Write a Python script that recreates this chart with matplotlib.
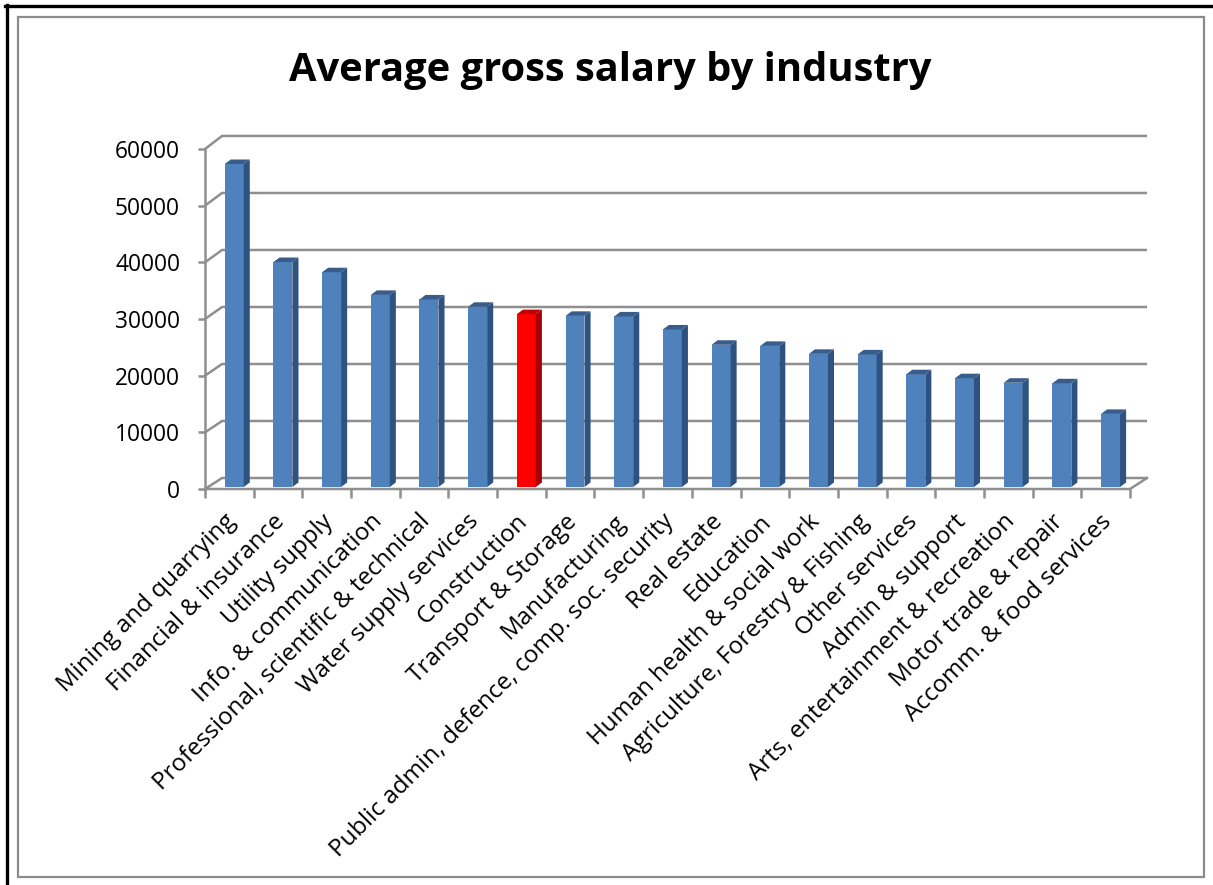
import numpy as np
import matplotlib.pyplot as plt
from matplotlib.patches import Polygon, Rectangle
from matplotlib.lines import Line2D

industries = ['Mining and quarrying', 'Financial & insurance', 'Utility supply',
              'Info. & communication', 'Professional, scientific & technical',
              'Water supply services', 'Construction', 'Transport & Storage',
              'Manufacturing', 'Public admin, defence, comp. soc. security',
              'Real estate', 'Education', 'Human health & social work',
              'Agriculture, Forestry & Fishing', 'Other services', 'Admin & support',
              'Arts, entertainment & recreation', 'Motor trade & repair',
              'Accomm. & food services']
salary = [57000, 39700, 37900, 33900, 33100, 31800, 30500, 30200, 30100, 27800,
          25100, 24900, 23500, 23400, 19900, 19200, 18400, 18300, 12900]
highlight = 'Construction'
yticks = [0, 10000, 20000, 30000, 40000, 50000, 60000]

plt.rcParams['font.family'] = ['Open Sans', 'DejaVu Sans']

W, H = 1213, 885
fig = plt.figure(figsize=(W / 100, H / 100), dpi=100)
ax = fig.add_axes([205 / W, 1 - 489 / H, 925 / W, 340 / H])
n = len(industries)
ax.set_xlim(0, n)
ax.set_ylim(0, 60000)
for s in ax.spines.values():
    s.set_visible(False)

grid = '#8f8f8f'
# fake 3d: back wall offset and bar depth
wall_dx, wall_dy, wall_k = 0.35, 1940, 1.006
bar_shift, bar_w, bar_base = 0.1, 0.39, 350
bar_dx, bar_dy = 0.125, 800

for v in yticks:
    yb = wall_dy + v * wall_k
    ax.plot([0, wall_dx, n + wall_dx], [v, yb, yb], color=grid, lw=1.8,
            clip_on=False, zorder=1, solid_capstyle='butt')
ax.plot([0, 0], [0, 60000], color=grid, lw=1.8, clip_on=False, zorder=1)
ax.plot([0, n, n + wall_dx], [0, 0, wall_dy], color=grid, lw=1.8,
        clip_on=False, zorder=1)

for i, (name, val) in enumerate(zip(industries, salary)):
    if name == highlight:
        front, side, top = '#ff0000', '#a80000', '#c00000'
    else:
        front, side, top = '#4f81bd', '#2f5380', '#385d8a'
    x0 = i + 0.5 + bar_shift - bar_w / 2
    x1 = x0 + bar_w
    y0 = bar_base
    y1 = bar_base + val
    ax.add_patch(Rectangle((x0, y0), bar_w, val, facecolor=front,
                           edgecolor='none', zorder=3, clip_on=False))
    ax.add_patch(Polygon([(x1, y0), (x1 + bar_dx, y0 + bar_dy),
                          (x1 + bar_dx, y1 + bar_dy), (x1, y1)],
                         closed=True, facecolor=side, edgecolor='none',
                         zorder=3, clip_on=False))
    ax.add_patch(Polygon([(x0, y1), (x1, y1), (x1 + bar_dx, y1 + bar_dy),
                          (x0 + bar_dx, y1 + bar_dy)],
                         closed=True, facecolor=top, edgecolor='none',
                         zorder=3, clip_on=False))

ax.set_yticks(yticks)
ax.set_yticklabels([str(v) for v in yticks], fontsize=16.4)
ax.tick_params(axis='y', length=5, width=1.8, color=grid, pad=13)

ax.set_xticks(np.arange(n + 1), minor=True)
ax.set_xticks(np.arange(n) + 0.56)
ax.set_xticklabels(industries, rotation=45, ha='right', va='center',
                   rotation_mode='anchor', fontsize=17.4)
ax.tick_params(axis='x', which='major', length=0, pad=21)
ax.tick_params(axis='x', which='minor', length=6.5, width=1.8, color=grid)

fig.text(610 / W, 1 - 70 / H, 'Average gross salary by industry', ha='center',
         va='center', fontsize=28.7, fontweight='bold')

fig.add_artist(Rectangle((18 / W, 1 - 877 / H), 1186 / W, 860 / H,
                         transform=fig.transFigure, fill=False,
                         edgecolor='#8c8c8c', lw=1.6))
fig.add_artist(Line2D([5 / W, 1], [1 - 5.8 / H, 1 - 5.8 / H],
                      transform=fig.transFigure, color='black', lw=2.4))
fig.add_artist(Line2D([6.5 / W, 6.5 / W], [0, 1 - 4.5 / H],
                      transform=fig.transFigure, color='black', lw=2.4))

fig.savefig('out.png', dpi=100)
